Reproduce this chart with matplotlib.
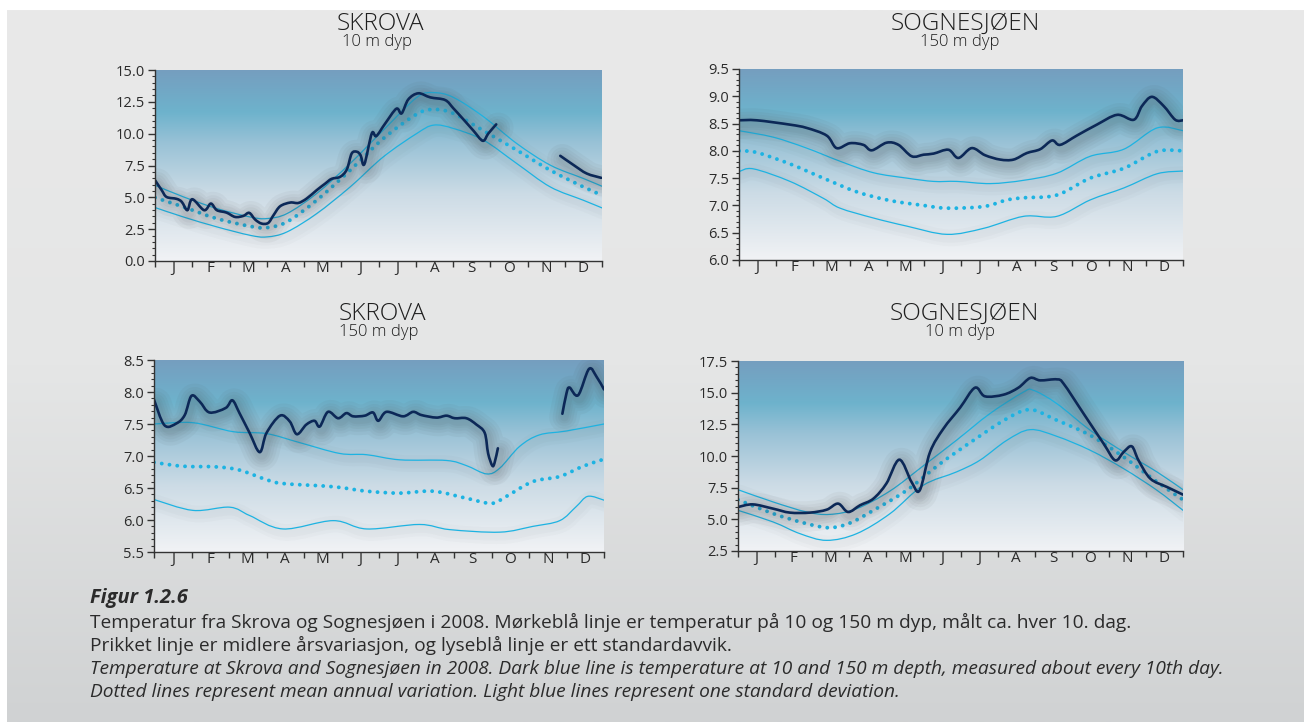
"""
Temperaturfigur Skrova / Sognesjøen 2008
Fire paneler med målt temperatur, middel og standardavvik
"""

import numpy as np
import matplotlib
matplotlib.use('Agg')
import matplotlib.pyplot as plt
import matplotlib.patheffects as pe
from matplotlib.path import Path
from matplotlib.patches import PathPatch
from matplotlib.colors import LinearSegmentedColormap

plt.rcParams['font.family'] = ['Open Sans', 'DejaVu Sans']

MONTHS = ['J', 'F', 'M', 'A', 'M', 'J', 'J', 'A', 'S', 'O', 'N', 'D']

# ---- Skrova 10 m (x i måneder, 0 = 1. jan) ----
skrova10_x = [0, 0.18, 0.31, 0.58, 0.72, 0.87, 1.0, 1.32, 1.5, 1.66, 1.92, 2.15, 2.37, 2.53,
              2.69, 2.86, 3.04, 3.18, 3.36, 3.63, 3.85, 4.07, 4.34, 4.57, 4.74, 4.97, 5.15,
              5.28, 5.42, 5.52, 5.62, 5.82, 5.94, 6.18, 6.48, 6.62, 6.80, 7.07, 7.39, 7.79,
              8.01, 8.28, 8.55, 8.80, 8.95, 9.16]
skrova10_y = [6.35, 5.56, 5.03, 4.88, 4.64, 3.99, 4.85, 3.99, 4.51, 3.99, 3.80, 3.46, 3.54, 3.78,
              3.25, 2.94, 2.99, 3.59, 4.30, 4.59, 4.56, 4.90, 5.56, 6.08, 6.45, 6.61, 7.19,
              8.44, 8.58, 8.30, 7.60, 10.02, 9.81, 10.8, 11.96, 11.59, 12.69, 13.17, 12.85, 12.64,
              11.99, 11.12, 10.23, 9.44, 10.02, 10.73]
skrova10_late_x = [10.88, 11.24, 11.59, 11.98]
skrova10_late_y = [8.26, 7.53, 6.87, 6.53]
skrova10_std_x = [0, 0.76, 1.66, 2.55, 3.0, 3.54, 4.34, 5.24, 6.13, 7.03, 7.48, 8.01, 8.82,
                  9.71, 10.61, 11.5, 12.0]
skrova10_mean = [4.98, 4.25, 3.33, 2.73, 2.62, 3.07, 4.77, 7.13, 9.62, 11.54, 11.9, 11.59, 10.23,
                 8.71, 7.13, 5.82, 5.17]
skrova10_hi = [5.95, 5.04, 4.12, 3.46, 3.33, 3.72, 5.30, 7.66, 10.28, 12.85, 13.22, 12.85, 11.33,
               9.23, 7.53, 6.48, 5.87]
skrova10_lo = [4.20, 3.46, 2.68, 2.02, 1.89, 2.28, 3.72, 5.82, 8.18, 10.02, 10.67, 10.41, 9.49,
               7.66, 5.82, 4.77, 4.17]

# ---- Sognesjøen 150 m ----
sogn150_x = [0, 0.48, 1.38, 1.83, 2.37, 2.64, 3.0, 3.36, 3.59, 3.99, 4.31, 4.67, 4.99, 5.26,
             5.66, 5.93, 6.29, 6.65, 7.06, 7.42, 7.78, 8.14, 8.46, 8.68, 9.13, 9.67, 10.22,
             10.67, 10.89, 11.16, 11.48, 11.79, 12.0]
sogn150_y = [8.56, 8.56, 8.48, 8.42, 8.28, 8.05, 8.14, 8.11, 8.01, 8.15, 8.11, 7.90, 7.93, 7.95,
             8.02, 7.87, 8.05, 7.92, 7.84, 7.84, 7.96, 8.03, 8.19, 8.11, 8.28, 8.48, 8.66,
             8.57, 8.82, 8.99, 8.82, 8.57, 8.56]
sogn150_mean_x = [0, 0.48, 1.38, 2.28, 3.18, 4.08, 4.99, 5.62, 6.61, 7.24, 7.69, 8.59, 9.49,
                  10.4, 11.3, 12.0]
sogn150_mean = [8.0, 7.97, 7.76, 7.5, 7.25, 7.09, 7.0, 6.95, 6.98, 7.1, 7.14, 7.19, 7.5,
                7.68, 7.99, 8.0]
sogn150_hi_x = [0, 0.93, 1.83, 2.73, 3.63, 4.54, 5.26, 5.89, 6.79, 7.69, 8.59, 9.49, 10.4,
                11.3, 12.0]
sogn150_hi = [8.37, 8.25, 8.05, 7.81, 7.6, 7.5, 7.44, 7.44, 7.40, 7.46, 7.59, 7.90, 8.03,
              8.42, 8.37]
sogn150_lo_x = [0, 0.39, 1.38, 2.28, 2.73, 3.63, 4.54, 5.62, 6.61, 7.69, 8.59, 9.49, 10.4,
                11.3, 12.0]
sogn150_lo = [7.62, 7.67, 7.44, 7.13, 6.95, 6.77, 6.62, 6.47, 6.58, 6.80, 6.80, 7.10, 7.32,
              7.58, 7.63]

# ---- Skrova 150 m ----
skrova150_x = [0, 0.28, 0.6, 0.82, 1.0, 1.22, 1.48, 1.91, 2.09, 2.28, 2.55, 2.82, 3.0, 3.36,
               3.62, 3.81, 4.06, 4.28, 4.42, 4.64, 4.91, 5.13, 5.31, 5.62, 5.84, 5.98, 6.2,
               6.64, 6.91, 7.13, 7.53, 7.8, 8.02, 8.33, 8.6, 8.82, 8.91, 9.02, 9.08, 9.17]
skrova150_y = [7.88, 7.48, 7.51, 7.64, 7.94, 7.85, 7.68, 7.75, 7.87, 7.67, 7.36, 7.06, 7.36, 7.63,
               7.54, 7.34, 7.49, 7.55, 7.46, 7.69, 7.59, 7.67, 7.62, 7.63, 7.68, 7.55, 7.69,
               7.62, 7.69, 7.64, 7.60, 7.63, 7.59, 7.59, 7.49, 7.36, 7.04, 6.85, 6.89, 7.12]
skrova150_late_x = [10.89, 11.0, 11.08, 11.31, 11.6, 11.8, 12.0]
skrova150_late_y = [7.66, 7.98, 8.07, 7.95, 8.36, 8.24, 8.04]
skrova150_mean_x = [0, 0.77, 1.66, 2.28, 3.0, 3.44, 4.78, 5.67, 6.56, 7.44, 8.33, 9.0, 9.4,
                    10.1, 10.82, 11.44, 12.0]
skrova150_mean = [6.90, 6.84, 6.83, 6.78, 6.63, 6.57, 6.52, 6.45, 6.42, 6.45, 6.34, 6.26, 6.37,
                  6.60, 6.68, 6.84, 6.95]
skrova150_hi_x = [0, 1.04, 2.11, 3.0, 3.88, 4.95, 5.67, 6.56, 7.8, 8.33, 8.87, 9.22, 9.75,
                  10.28, 10.99, 12.0]
skrova150_hi = [7.50, 7.52, 7.38, 7.35, 7.21, 7.04, 7.02, 6.94, 6.93, 6.85, 6.72, 6.81, 7.15,
                7.33, 7.39, 7.50]
skrova150_lo_x = [0, 1.04, 2.02, 2.55, 3.44, 4.78, 5.67, 7.08, 7.88, 9.22, 10.1, 10.82, 11.26,
                  11.57, 12.0]
skrova150_lo = [6.32, 6.15, 6.20, 6.07, 5.86, 5.99, 5.86, 5.93, 5.85, 5.81, 5.90, 5.99, 6.21,
                6.37, 6.31]

# ---- Sognesjøen 10 m ----
sogn10_x = [0, 0.4, 0.95, 1.4, 1.94, 2.39, 2.7, 2.97, 3.29, 3.65, 4.0, 4.35, 4.68, 4.9, 5.18,
            5.54, 5.99, 6.39, 6.66, 7.16, 7.56, 7.88, 8.15, 8.6, 8.78, 9.32, 9.86, 10.17,
            10.4, 10.62, 10.8, 11.12, 11.57, 12.0]
sogn10_y = [5.97, 6.18, 5.84, 5.53, 5.53, 5.76, 6.24, 5.58, 6.11, 6.63, 7.82, 9.71, 7.95, 7.29,
            10.32, 12.16, 13.82, 15.39, 14.71, 14.84, 15.39, 16.16, 15.97, 16.05, 15.71, 13.34,
            10.97, 9.66, 10.32, 10.76, 9.66, 8.21, 7.55, 6.95]
sogn10_mean_x = [0, 0.95, 1.85, 2.48, 3.02, 3.65, 4.55, 5.45, 6.35, 7.25, 7.88, 8.6, 9.5,
                 10.4, 11.3, 12.0]
sogn10_mean = [6.55, 5.45, 4.66, 4.34, 4.71, 5.71, 7.29, 9.39, 11.24, 12.95, 13.66, 12.82, 11.63,
               9.92, 7.95, 6.55]
sogn10_hi_x = [0, 0.95, 1.85, 2.48, 3.2, 4.1, 4.99, 5.89, 6.79, 7.7, 7.97, 8.6, 9.5, 10.4,
               11.3, 12.0]
sogn10_hi = [7.34, 6.37, 5.58, 5.39, 5.84, 7.24, 9.21, 11.24, 13.34, 15.05, 15.18, 14.13, 12.03,
             10.32, 8.74, 7.34]
sogn10_lo_x = [0, 0.95, 1.67, 2.39, 3.2, 4.1, 4.99, 5.89, 6.52, 7.25, 7.88, 8.6, 9.5, 10.4,
               11.3, 12.0]
sogn10_lo = [5.71, 4.79, 3.87, 3.34, 3.87, 5.45, 7.68, 8.74, 9.66, 11.24, 12.08, 11.55, 10.45,
             9.0, 7.29, 5.71]

DARK = '#0c2857'
LIGHT = '#1db3e2'
TEXT = '#2b2b2b'


def smooth_path(x, y):
    """Glatt kurve (Catmull-Rom som Bezier) gjennom punktene"""
    pts = np.column_stack([x, y]).astype(float)
    n = len(pts)
    verts = [pts[0]]
    codes = [Path.MOVETO]
    for i in range(n - 1):
        p0 = pts[max(i - 1, 0)]
        p1 = pts[i]
        p2 = pts[i + 1]
        p3 = pts[min(i + 2, n - 1)]
        verts += [p1 + (p2 - p0) / 6, p2 - (p3 - p1) / 6, p2]
        codes += [Path.CURVE4] * 3
    return Path(verts, codes)


def glow(widths, alpha, color='#4a4a4a', offset=(1.5, -2.5)):
    effects = [pe.Stroke(linewidth=w, foreground=color, alpha=alpha, offset=offset)
               for w in widths]
    return effects + [pe.Normal()]


def draw_curve(ax, x, y, kind):
    path = smooth_path(x, y)
    if kind == 'dark':
        patch = PathPatch(path, fill=False, edgecolor=DARK, linewidth=1.9,
                          capstyle='round', joinstyle='round', zorder=5,
                          path_effects=glow([22, 17, 13, 9, 6], 0.05))
    elif kind == 'mean':
        patch = PathPatch(path, fill=False, edgecolor=LIGHT, linewidth=2.8,
                          linestyle=(0, (0.01, 2.0)), capstyle='round', zorder=4)
    else:
        patch = PathPatch(path, fill=False, edgecolor=LIGHT, linewidth=0.9,
                          capstyle='round', zorder=4,
                          path_effects=glow([12, 7], 0.025))
    ax.add_patch(patch)


bg_cmap = LinearSegmentedColormap.from_list('sea', [
    (0.0, (0.945, 0.950, 0.960)),
    (0.35, (0.80, 0.86, 0.90)),
    (0.62, (0.60, 0.76, 0.84)),
    (0.78, (0.43, 0.70, 0.80)),
    (1.0, (0.46, 0.62, 0.75)),
])


def setup_axes(ax, ylim, major, minor):
    ymin, ymax = ylim
    grad = np.linspace(0, 1, 256).reshape(-1, 1)
    ax.imshow(grad, extent=[0, 12, ymin, ymax], aspect='auto', origin='lower',
              cmap=bg_cmap, zorder=0, interpolation='bicubic')
    ax.set_xlim(0, 12)
    ax.set_ylim(ymin, ymax)
    for side in ['top', 'right']:
        ax.spines[side].set_visible(False)
    for side in ['left', 'bottom']:
        ax.spines[side].set_color('#333333')
        ax.spines[side].set_linewidth(1.0)
        ax.spines[side].set_zorder(6)

    ax.set_yticks(np.arange(ymin, ymax + major / 2, major))
    ax.set_yticks(np.arange(ymin, ymax + minor / 2, minor), minor=True)
    ax.yaxis.set_major_formatter(plt.FormatStrFormatter('%.1f'))
    ax.tick_params(axis='y', which='major', length=5, width=1, color='#333333',
                   labelsize=10.5, labelcolor=TEXT, pad=2)
    ax.tick_params(axis='y', which='minor', length=2.5, width=0.8, color='#333333')

    ax.set_xticks(np.arange(0, 13))
    ax.set_xticklabels([])
    ax.set_xticks(np.arange(0.5, 12), minor=True)
    ax.set_xticklabels(MONTHS, minor=True)
    ax.tick_params(axis='x', which='major', length=4, width=1, color='#333333')
    ax.tick_params(axis='x', which='minor', length=0, labelsize=11, labelcolor=TEXT, pad=0)


fig = plt.figure(figsize=(13.04, 7.22), dpi=100, facecolor='white')

# grå bakgrunn
bg = fig.add_axes([7 / 1304, 0, 1 - 7 / 1304, 1 - 10 / 722], zorder=-10)
bg.imshow(np.linspace(0, 1, 256).reshape(-1, 1), aspect='auto',
          cmap=LinearSegmentedColormap.from_list('g', ['#e9e9e9', '#e5e6e6', '#d0d2d3']),
          extent=[0, 1, 0, 1], origin='upper')
bg.axis('off')

W, H = 1304, 722


def add_panel(left, top, right, bottom):
    return fig.add_axes([left / W, 1 - bottom / H, (right - left) / W, (bottom - top) / H])


ax1 = add_panel(155, 70, 602, 261)
ax2 = add_panel(739, 69, 1183, 260)
ax3 = add_panel(154, 360, 604, 552)
ax4 = add_panel(738, 361, 1183, 551)

setup_axes(ax1, (0.0, 15.0), 2.5, 0.5)
setup_axes(ax2, (6.0, 9.5), 0.5, 0.1)
setup_axes(ax3, (5.5, 8.5), 0.5, 0.1)
setup_axes(ax4, (2.5, 17.5), 2.5, 0.5)

# Skrova 10 m
draw_curve(ax1, skrova10_std_x, skrova10_hi, 'std')
draw_curve(ax1, skrova10_std_x, skrova10_lo, 'std')
draw_curve(ax1, skrova10_std_x, skrova10_mean, 'mean')
draw_curve(ax1, skrova10_x, skrova10_y, 'dark')
draw_curve(ax1, skrova10_late_x, skrova10_late_y, 'dark')

# Sognesjøen 150 m
draw_curve(ax2, sogn150_hi_x, sogn150_hi, 'std')
draw_curve(ax2, sogn150_lo_x, sogn150_lo, 'std')
draw_curve(ax2, sogn150_mean_x, sogn150_mean, 'mean')
draw_curve(ax2, sogn150_x, sogn150_y, 'dark')

# Skrova 150 m
draw_curve(ax3, skrova150_hi_x, skrova150_hi, 'std')
draw_curve(ax3, skrova150_lo_x, skrova150_lo, 'std')
draw_curve(ax3, skrova150_mean_x, skrova150_mean, 'mean')
draw_curve(ax3, skrova150_x, skrova150_y, 'dark')
draw_curve(ax3, skrova150_late_x, skrova150_late_y, 'dark')

# Sognesjøen 10 m
draw_curve(ax4, sogn10_hi_x, sogn10_hi, 'std')
draw_curve(ax4, sogn10_lo_x, sogn10_lo, 'std')
draw_curve(ax4, sogn10_mean_x, sogn10_mean, 'mean')
draw_curve(ax4, sogn10_x, sogn10_y, 'dark')

# titler
titles = [
    (380, 24, 'SKROVA', 377, 42, '10 m dyp'),
    (965, 24, 'SOGNESJØEN', 960, 42, '150 m dyp'),
    (382, 314, 'SKROVA', 379, 332, '150 m dyp'),
    (964, 314, 'SOGNESJØEN', 960, 332, '10 m dyp'),
]
for tx, ty, title, sx, sy, sub in titles:
    fig.text(tx / W, 1 - ty / H, title, ha='center', va='center', fontsize=17.5,
             color='#1e1e1e', fontweight='light')
    fig.text(sx / W, 1 - sy / H, sub, ha='center', va='center', fontsize=12,
             color='#1e1e1e', fontweight='light')

# figurtekst
fig.text(90 / W, 1 - 598 / H, 'Figur 1.2.6', ha='left', va='center', fontsize=14.4,
         fontweight='bold', style='italic', color=TEXT)
caption = [
    ('Temperatur fra Skrova og Sognesjøen i 2008. Mørkeblå linje er temperatur på 10 og 150 m dyp, '
     'målt ca. hver 10. dag.', 'normal', 622),
    ('Prikket linje er midlere årsvariasjon, og lyseblå linje er ett standardavvik.', 'normal', 645),
    ('Temperature at Skrova and Sognesjøen in 2008. Dark blue line is temperature at 10 and 150 m '
     'depth, measured about every 10th day.', 'italic', 669),
    ('Dotted lines represent mean annual variation. Light blue lines represent one standard '
     'deviation.', 'italic', 692),
]
for txt, style, y in caption:
    fig.text(90 / W, 1 - y / H, txt, ha='left', va='center', fontsize=13.8,
             style=style, color=TEXT)

fig.savefig('out.png', dpi=100, facecolor='white')
plt.close(fig)
